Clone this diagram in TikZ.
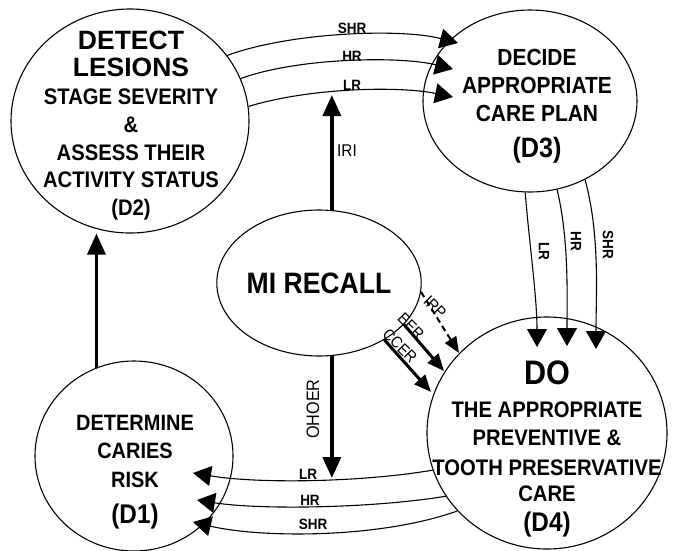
\documentclass[tikz,border=0pt]{standalone}
\usepackage{fontspec}
\setmainfont[FakeStretch=0.9]{Liberation Sans}
\newfontfamily\widesans{Liberation Sans}
\usetikzlibrary{shapes.geometric,arrows.meta}

\begin{document}
\begin{tikzpicture}[x=1pt,y=-1pt,
  bubble/.style={draw, ellipse, line width=1.1pt, inner sep=0pt},
  bubbletext/.style={align=center, inner sep=0pt, anchor=north},
  flow/.style={line width=1.1pt, -{Triangle[length=18pt,width=20pt]}},
  bigflow/.style={line width=3.5pt, -{Triangle[length=21pt,width=18pt]}},
  midflow/.style={line width=3pt, -{Triangle[length=17pt,width=14pt]}},
  dashflow/.style={line width=2pt, dash pattern=on 6pt off 4pt, -{Triangle[length=16pt,width=13pt]}},
  tag/.style={font=\fontsize{15}{15}\selectfont\bfseries, inner sep=1pt},
  note/.style={font=\fontsize{16}{16}\selectfont, inner sep=1pt}
]
\useasboundingbox[fill=white] (0,0) rectangle (673,550);

% the five stages
\node[bubble, minimum width=238pt, minimum height=224pt] (d2) at (130,121) {};
\node[bubble, minimum width=214pt, minimum height=182pt] (d3) at (530,101) {};
\node[bubble, minimum width=162pt, minimum height=146pt,
      font=\fontsize{29.5}{29.5}\selectfont\bfseries] (mi) at (319,283) {MI RECALL};
\node[bubble, minimum width=198pt, minimum height=190pt] (d1) at (134,456) {};
\node[bubble, minimum width=240pt, minimum height=232pt] (d4) at (547,433) {};

% stage texts
\node[bubbletext, font=\fontsize{22.5}{27.7}\selectfont\bfseries] (d2txt) at (131,30.5)
  {{\widesans\fontsize{26.5}{27.7}\selectfont DETECT}\\{\widesans\fontsize{26.5}{27.7}\selectfont LESIONS}\\
   STAGE SEVERITY\\\&\\ASSESS THEIR\\ACTIVITY STATUS\\(D2)};
\node[bubbletext, font=\fontsize{23.3}{28}\selectfont\bfseries] (d3txt) at (537,48.6)
  {DECIDE\\APPROPRIATE\\CARE PLAN\\[8.2pt]{\fontsize{28}{28}\selectfont (D3)}};
\node[bubbletext, font=\fontsize{22.2}{28.5}\selectfont\bfseries] (d1txt) at (135,415)
  {DETERMINE\\CARIES\\RISK\\[7.7pt]{\fontsize{27}{28}\selectfont (D1)}};
\node[bubbletext, font=\fontsize{22.5}{28}\selectfont\bfseries] (d4txt) at (547,360.8)
  {{\fontsize{34}{28}\selectfont DO}\\[4.8pt]THE APPROPRIATE\\PREVENTIVE \&\\[2pt]
   TOOTH PRESERVATIVE\\[-2pt]CARE\\[2pt]{\fontsize{27}{28}\selectfont (D4)}};

% arrow tips that end inside a stage
\coordinate (d3inshr) at (458,43);
\coordinate (d3inhr)  at (453,69);
\coordinate (d3inlr)  at (453,97);
\coordinate (d4inlr)  at (537,347);
\coordinate (d4inhr)  at (567,346);
\coordinate (d4inshr) at (596,349);
\coordinate (d1inlr)  at (193,473);
\coordinate (d1inhr)  at (197,500);
\coordinate (d1inshr) at (193,522);
\coordinate (d4inirp) at (459,353);
\coordinate (d4ineer) at (444,371);
\coordinate (d4inccer) at (431,392);
\coordinate (iritip)   at (0,95);
\coordinate (ohoertip) at (0,478);

% D2 -> D3
\draw[flow] (d2.34) .. controls +(62,-23) and +(-58,-15) .. (d3inshr);
\draw[flow] (d2.21) .. controls +(58,-21) and +(-53,-13) .. (d3inhr);
\draw[flow] (d2.7)  .. controls +(62,-19) and +(-53,-11) .. (d3inlr);
\node[tag] (tshr) at (352,28) {SHR};
\node[tag] (thr)  at (352,56) {HR};
\node[tag] (tlr)  at (352,85) {LR};

% D3 -> D4
\draw[flow] (d3.267) .. controls +(4,50) and +(0,-50) .. (d4inlr);
\draw[flow] (d3.287) .. controls +(12,50) and +(0,-50) .. (d4inhr);
\draw[flow] (d3.305) .. controls +(15,55) and +(0,-55) .. (d4inshr);
\node[tag, rotate=-90] (rlr)  at (544,251) {LR};
\node[tag, rotate=-90] (rhr)  at (576,241) {HR};
\node[tag, rotate=-90] (rshr) at (608,245) {SHR};

% D4 -> D1
\draw[flow] (d4.198) .. controls +(-70,12) and +(67,11) .. (d1inlr);
\draw[flow] (d4.212) .. controls +(-73,12) and +(63,10) .. (d1inhr);
\draw[flow] (d4.221) .. controls +(-78,28) and +(67,16) .. (d1inshr);
\node[tag] (blr)  at (308,474) {LR};
\node[tag] (bhr)  at (310,500) {HR};
\node[tag] (bshr) at (313,524) {SHR};

% D1 -> D2
\draw[bigflow] (d1.113) -- (d1.113 |- d2.south);

% MI recall links
\draw[bigflow] (mi.80) -- (mi.80 |- iritip);
\node[note, font=\fontsize{17}{17}\selectfont] (iri) at (347,151) {IRI};
\draw[bigflow] (mi.280) -- (mi.280 |- ohoertip);
\node[note, font=\fontsize{18}{18}\selectfont, rotate=90] (ohoer) at (313,409) {OHOER};

\draw[dashflow] (mi.355) -- (d4inirp);
\draw[midflow] (mi.334) -- (d4ineer);
\draw[midflow] (mi.319) -- (d4inccer);
\node[note, rotate=-45] (irp)  at (435,307) {IRP};
\node[note, rotate=-45] (eer)  at (411,326) {EER};
\node[note, rotate=-45] (ccer) at (400,346) {CCER};
\end{tikzpicture}
\end{document}
